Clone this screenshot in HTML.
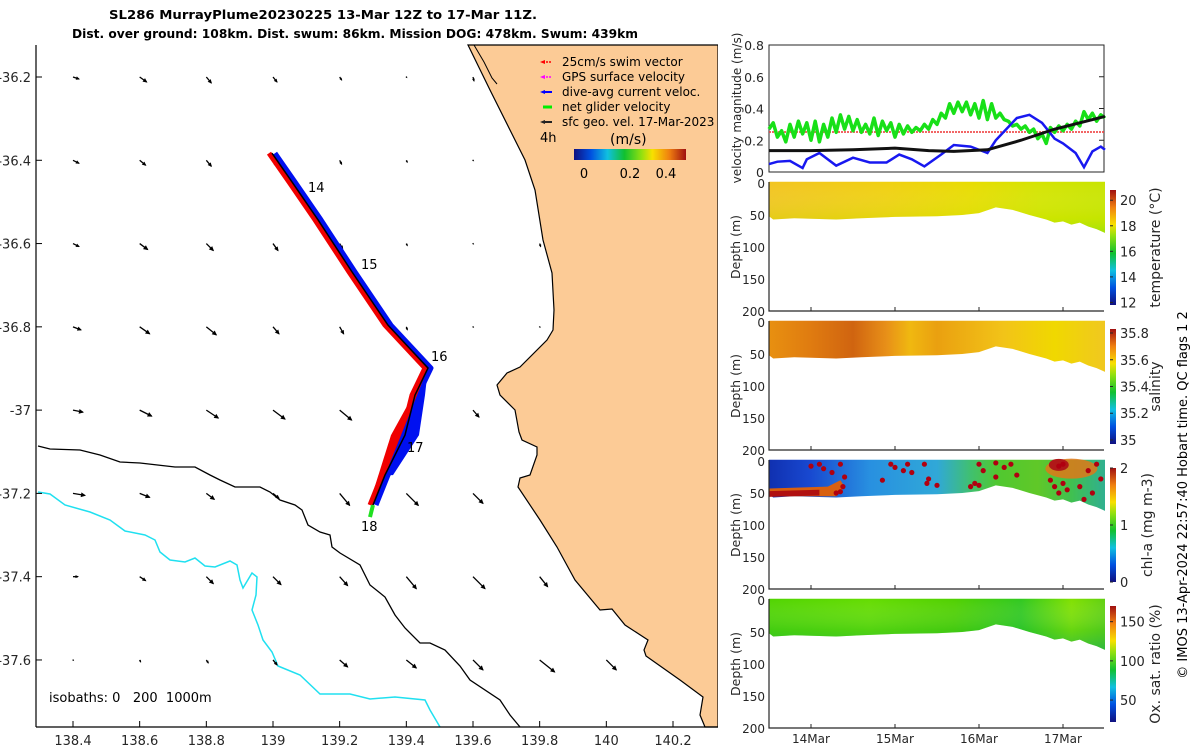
<!DOCTYPE html>
<html><head><meta charset="utf-8"><style>
html,body{margin:0;padding:0;background:#fff;}
svg{display:block;font-family:"DejaVu Sans","Liberation Sans",sans-serif;}
</style></head><body>
<svg id="fig" width="1200" height="750" viewBox="0 0 1200 750" xmlns="http://www.w3.org/2000/svg">
<defs>
<linearGradient id="jet" x1="0" y1="1" x2="0" y2="0">
<stop offset="0" stop-color="#10107f"/><stop offset="0.15" stop-color="#0050e0"/><stop offset="0.3" stop-color="#10c0e0"/><stop offset="0.45" stop-color="#10c030"/><stop offset="0.6" stop-color="#90e010"/><stop offset="0.7" stop-color="#f8e000"/><stop offset="0.85" stop-color="#f08010"/><stop offset="1" stop-color="#a01010"/>
</linearGradient>
<linearGradient id="jetH" x1="0" y1="0" x2="1" y2="0">
<stop offset="0" stop-color="#10107f"/><stop offset="0.15" stop-color="#0050e0"/><stop offset="0.3" stop-color="#10c0e0"/><stop offset="0.45" stop-color="#10c030"/><stop offset="0.6" stop-color="#90e010"/><stop offset="0.7" stop-color="#f8e000"/><stop offset="0.85" stop-color="#f08010"/><stop offset="1" stop-color="#a01010"/>
</linearGradient>
<linearGradient id="gTemp" x1="0" y1="0" x2="1" y2="0">
<stop offset="0" stop-color="#f2c420"/><stop offset="0.35" stop-color="#f0d010"/><stop offset="0.6" stop-color="#e8dc00"/><stop offset="0.8" stop-color="#d4e400"/><stop offset="1" stop-color="#c8e400"/>
</linearGradient>
<linearGradient id="gTempV" x1="0" y1="0" x2="0" y2="1">
<stop offset="0" stop-color="#fff" stop-opacity="0"/><stop offset="0.7" stop-color="#b8e800" stop-opacity="0.2"/><stop offset="1" stop-color="#90e010" stop-opacity="0.7"/>
</linearGradient>
<linearGradient id="gSal" x1="0" y1="0" x2="1" y2="0">
<stop offset="0" stop-color="#e89010"/><stop offset="0.12" stop-color="#e07c10"/><stop offset="0.25" stop-color="#d06410"/><stop offset="0.35" stop-color="#e89018"/><stop offset="0.42" stop-color="#f0b810"/><stop offset="0.5" stop-color="#eaa010"/><stop offset="0.7" stop-color="#f2c418"/><stop offset="0.85" stop-color="#f0d800"/><stop offset="1" stop-color="#f0c820"/>
</linearGradient>
<linearGradient id="gChl" x1="0" y1="0" x2="1" y2="0">
<stop offset="0" stop-color="#1030b0"/><stop offset="0.12" stop-color="#1848d0"/><stop offset="0.3" stop-color="#2890e0"/><stop offset="0.5" stop-color="#30a8d8"/><stop offset="0.6" stop-color="#40c070"/><stop offset="0.68" stop-color="#50c830"/><stop offset="0.8" stop-color="#60c828"/><stop offset="0.9" stop-color="#40c050"/><stop offset="1" stop-color="#30b090"/>
</linearGradient>
<linearGradient id="gOx" x1="0" y1="0" x2="1" y2="0">
<stop offset="0" stop-color="#50d400"/><stop offset="0.3" stop-color="#64dc00"/><stop offset="0.55" stop-color="#50d000"/><stop offset="0.75" stop-color="#30c820"/><stop offset="0.9" stop-color="#80e000"/><stop offset="1" stop-color="#60d010"/>
</linearGradient>
<linearGradient id="gOxV" x1="0" y1="0" x2="0" y2="1">
<stop offset="0" stop-color="#fff" stop-opacity="0"/><stop offset="0.6" stop-color="#20b840" stop-opacity="0.25"/><stop offset="1" stop-color="#10a860" stop-opacity="0.6"/>
</linearGradient>
</defs>

<g font-weight="bold" font-size="12.5" fill="#000">
<text x="109" y="19" textLength="428" lengthAdjust="spacingAndGlyphs">SL286 MurrayPlume20230225 13-Mar 12Z to 17-Mar 11Z.</text>
<text x="72" y="38" textLength="566" lengthAdjust="spacingAndGlyphs">Dist. over ground: 108km. Dist. swum: 86km. Mission DOG: 478km. Swum: 439km</text>
</g>

<g id="map">
<polygon fill="#fccb96" stroke="#000" stroke-width="1.2" points="468,45 490,90 510,130 525,160 535,190 543,240 552,273 554,310 553,330 547,340 520,367 507,373 497,385 500,395 515,410 519,432 522,440 537,447 537,455 530,475 520,478 518,487 540,520 557,547 575,580 600,610 612,609 625,625 648,640 644,650 646,656 680,680 703,697 700,715 705,727 718,727 718,45"/>
<polyline fill="none" stroke="#000" stroke-width="1" points="474,45 484,62 492,78 497,84"/>
<polyline fill="none" stroke="#000" stroke-width="1.3" points="38,446 50,449 80,450 100,455 120,462 140,463 175,467 195,467 210,475 220,480 235,487 260,487 270,492 280,500 295,505 302,510 308,525 320,532 330,535 332,547 340,553 360,565 370,585 385,597 395,615 405,628 420,643 430,643 445,650 460,666 470,680 500,700 510,715 520,727"/>
<polyline fill="none" stroke="#20e0f0" stroke-width="1.5" points="38,492 50,494 65,505 90,512 110,520 125,531 145,535 155,540 160,552 170,560 185,562 195,558 205,566 215,567 230,561 237,565 240,580 243,588 252,573 257,577 256,595 252,610 258,625 263,640 272,652 278,666 300,675 320,694 350,694 370,699 395,697 425,700 430,710 440,727"/>
<g id="quiver"></g>
<g id="track"></g>
<g font-size="13" fill="#000">
<text x="308" y="192">14</text><text x="361" y="269">15</text><text x="431" y="361">16</text><text x="407" y="452">17</text><text x="361" y="531">18</text>
</g>
<rect x="718" y="44" width="10" height="690" fill="#fff"/>
<line x1="36" y1="45" x2="36" y2="727" stroke="#000" stroke-width="1.2"/>
<line x1="36" y1="727" x2="718" y2="727" stroke="#000" stroke-width="1.2"/>
<g id="mapTicks" font-size="13" fill="#262626"></g>
<text x="49" y="702" font-size="13" fill="#000" style="white-space:pre" xml:space="preserve">isobaths: 0   200  1000m</text>
<g font-size="12" fill="#000">
<line x1="543" y1="62" x2="552" y2="62" stroke="#f00" stroke-width="1.5" stroke-dasharray="2,1"/><polygon points="540,62 545,60 545,64" fill="#f00"/><text x="562" y="66">25cm/s swim vector</text>
<line x1="543" y1="77" x2="552" y2="77" stroke="#f0f" stroke-width="1.5" stroke-dasharray="2,1"/><polygon points="540,77 545,75 545,79" fill="#f0f"/><text x="562" y="81">GPS surface velocity</text>
<line x1="543" y1="92" x2="552" y2="92" stroke="#00f" stroke-width="2"/><polygon points="540,92 545,90 545,94" fill="#00f"/><text x="562" y="96">dive-avg current veloc.</text>
<line x1="543" y1="107" x2="552" y2="107" stroke="#0e0" stroke-width="3"/><text x="562" y="111">net glider velocity</text>
<line x1="543" y1="122" x2="552" y2="122" stroke="#222" stroke-width="2"/><polygon points="540,122 545,120 545,124" fill="#222"/><text x="562" y="126">sfc geo. vel. 17-Mar-2023</text>
<text x="540" y="142" font-size="13">4h</text>
<text x="610" y="144" font-size="14">(m/s)</text>
<rect x="574" y="149" width="112" height="11" fill="url(#jetH)"/>
<text x="584" y="178" font-size="13" text-anchor="middle">0</text><text x="630" y="178" font-size="13" text-anchor="middle">0.2</text><text x="666" y="178" font-size="13" text-anchor="middle">0.4</text>
</g>
</g>

<g id="vel">
<rect x="769" y="45" width="335" height="127" fill="none" stroke="#262626" stroke-width="1"/>
<line x1="769" y1="132" x2="1104" y2="132" stroke="#f04040" stroke-width="2" stroke-dasharray="2,1" opacity="0.8"/>
<g id="velLines"></g>
<g id="velTicks" font-size="12.5" fill="#262626" text-anchor="end"></g>
<text transform="translate(741,108) rotate(-90)" text-anchor="middle" font-size="12" fill="#262626">velocity magnitude (m/s)</text>
</g>

<g id="sections"></g>

<text transform="translate(1187,495) rotate(-90)" text-anchor="middle" font-size="13" fill="#000">© IMOS 13-Apr-2024 22:57:40 Hobart time. QC flags 1  2</text>
</svg>
<script>
// ---- map grid data ----
const quivLon = [138.4,138.6,138.8,139.0,139.2,139.4,139.6,139.8,140.0,140.2];
const quivLat = [-36.2,-36.4,-36.6,-36.8,-37.0,-37.2,-37.4,-37.6];
const quivU = [
 [6,7,5,4,2,0.5,1,null,null,null],
 [6,6,5,4,2,1,0.5,null,null,null],
 [6,8,7,5,3,1,0.5,1,null,null],
 [8,10,10,6,4,1,0.5,0.5,null,null],
 [10,12,12,12,12,10,6,null,null,null],
 [12,10,8,6,10,12,10,null,null,null],
 [5,6,7,8,8,10,12,8,null,null],
 [0.5,1,2,4,8,10,10,15,10,null]];
const quivV = [
 [2,5,6,5,3,0.5,4,null,null,null],
 [3,5,6,6,4,2,0.5,null,null,null],
 [3,6,7,7,5,2,0.5,3,null,null],
 [3,7,8,7,7,3,0.5,0.5,null,null],
 [2,6,8,9,10,10,7,null,null,null],
 [2,4,6,5,12,12,10,null,null,null],
 [0,4,7,8,9,12,12,10,null,null],
 [0.5,2,3,5,7,8,10,12,10,null]];
const trackLon = [138.997,139.057,139.135,139.237,139.345,139.465,139.426,139.396,139.336,139.300];
const trackLat = [-36.383,-36.452,-36.543,-36.668,-36.796,-36.899,-36.964,-37.060,-37.156,-37.228];
const lonTicks = [138.4,138.6,138.8,139,139.2,139.4,139.6,139.8,140,140.2];
const latTicks = [-36.2,-36.4,-36.6,-36.8,-37,-37.2,-37.4,-37.6];

// ---- velocity panel data ----
const greenT0 = 13.5, greenDT = 0.05;
const greenV = [0.27,0.31,0.22,0.26,0.19,0.30,0.22,0.32,0.24,0.31,0.20,
 0.32,0.19,0.30,0.22,0.34,0.25,0.36,0.27,0.35,0.26,
 0.33,0.25,0.30,0.24,0.34,0.23,0.32,0.26,0.31,0.22,
 0.30,0.24,0.29,0.25,0.28,0.26,0.30,0.27,0.33,0.30,
 0.37,0.34,0.43,0.37,0.44,0.38,0.44,0.36,0.43,0.34,
 0.45,0.33,0.43,0.34,0.37,0.33,0.32,0.29,0.30,0.27,
 0.29,0.25,0.27,0.21,0.24,0.18,0.28,0.25,0.29,0.26,
 0.30,0.27,0.32,0.29,0.38,0.33,0.37,0.32,0.36,0.34];
const blueT = [13.5,13.6,13.75,13.9,13.95,14.1,14.3,14.5,14.7,14.9,15.05,15.2,15.35,15.55,15.7,15.9,16.05,16.1,16.2,16.45,16.6,16.75,16.9,17.0,17.15,17.25,17.35,17.45,17.5];
const blueV = [0.05,0.065,0.07,0.025,0.08,0.12,0.04,0.09,0.06,0.06,0.11,0.08,0.035,0.11,0.17,0.16,0.13,0.12,0.2,0.34,0.36,0.31,0.21,0.18,0.12,0.03,0.13,0.16,0.14];
const blackT = [13.5,14.0,14.5,15.0,15.4,15.7,16.1,16.5,16.9,17.2,17.5];
const blackV = [0.135,0.135,0.14,0.15,0.135,0.13,0.14,0.2,0.27,0.31,0.35];
const velTicks = [0,0.2,0.4,0.6,0.8];

// ---- section data ----
const bottomT = [13.5,13.55,13.8,14.3,14.6,15.0,15.5,15.8,16.0,16.2,16.4,16.6,16.8,16.9,17.0,17.1,17.2,17.3,17.4,17.5];
const bottomD = [52,57,55,57,55,53,52,50,47,38,42,50,57,62,60,65,62,68,72,78];
const depthTicks = [0,50,100,150,200];
const dayTicks = [14,15,16,17];
const dayLabels = ['14Mar','15Mar','16Mar','17Mar'];
const chlDotT = [14.0,14.1,14.15,14.25,14.35,14.4,14.38,14.35,14.3,14.85,14.95,15.0,15.1,15.15,15.2,15.35,15.4,15.5,15.38,15.9,15.95,16.0,16.0,16.05,16.2,16.3,16.38,16.45,16.2,16.85,16.9,16.95,17.0,17.05,17.2,17.25,17.35,17.45,17.4,17.3,16.95,17.0];
const chlDotD = [8,5,12,18,5,25,40,48,50,30,5,10,15,5,18,5,28,38,35,40,35,38,5,15,3,10,5,22,25,30,40,50,35,45,40,60,50,28,5,15,8,5];
const tempTicks = [12,14,16,18,20];
const salTicks = [35,35.2,35.4,35.6,35.8];
const chlTicks = [0,1,2];
const oxTicks = [50,100,150];

const NS = 'http://www.w3.org/2000/svg';
function mk(tag, attrs, parent){ const e=document.createElementNS(NS,tag); for(const k in attrs) e.setAttribute(k,attrs[k]); parent.appendChild(e); return e; }

const mx = lon => 73 + (lon-138.4)*333.33;
const my = lat => 77 - (lat+36.2)*416.4;
const qg = document.getElementById('quiver');
quivLat.forEach((la,j)=>quivLon.forEach((lo,i)=>{
  const u=quivU[j][i], v=quivV[j][i];
  if(u===null) return;
  const x0=mx(lo), y0=my(la), x1=x0+u, y1=y0+v;
  const a = mk('line',{x1:x0,y1:y0,x2:x1,y2:y1,stroke:'#000','stroke-width':1.3},qg);
  
  
  const L=Math.hypot(u,v)||1, ux=u/L, uy=v/L, h=Math.min(4,1+L*0.3);
  const hd = mk('polygon',{points:`${x1+ux},${y1+uy} ${x1-ux*h-uy*h*0.6},${y1-uy*h+ux*h*0.6} ${x1-ux*h+uy*h*0.6},${y1-uy*h-ux*h*0.6}`,fill:'#000'},qg);
  
  
}));
const tg = document.getElementById('track');
const ptsOff = (dx)=>trackLon.map((lo,i)=>`${mx(lo)+dx},${my(trackLat[i])}`).join(' ');
const tb = mk('polyline',{points:ptsOff(3),fill:'none',stroke:'#0010f0','stroke-width':5,'stroke-linejoin':'round'},tg);


const tr = mk('polyline',{points:ptsOff(-3),fill:'none',stroke:'#f00000','stroke-width':5,'stroke-linejoin':'round'},tg);


const n=trackLon.length;
const legR = mk('polygon',{points:`${mx(trackLon[5])},${my(trackLat[5])} ${mx(trackLon[8])},${my(trackLat[8])} ${mx(trackLon[9])-4},${my(trackLat[9])} ${mx(trackLon[7])-14},${my(trackLat[7])}`,fill:'#f00000'},tg);


const legB = mk('polygon',{points:`${mx(trackLon[5])},${my(trackLat[5])} ${mx(trackLon[6])+10},${my(trackLat[6])} ${mx(trackLon[7])+14},${my(trackLat[7])} ${mx(trackLon[8])+8},${my(trackLat[8])} ${mx(trackLon[8])},${my(trackLat[8])}`,fill:'#0010f0'},tg);


const tk = mk('polyline',{points:ptsOff(0),fill:'none',stroke:'#000','stroke-width':1.5},tg);


const tgn = mk('line',{x1:mx(trackLon[n-1]),y1:my(trackLat[n-1]),x2:mx(trackLon[n-1])-3,y2:my(trackLat[n-1])+12,stroke:'#20e020','stroke-width':4},tg);



const mt = document.getElementById('mapTicks');
lonTicks.forEach(lo=>{
  const x=mx(lo);
  const l=mk('line',{x1:x,y1:727,x2:x,y2:721,stroke:'#000'},mt);
  
  
  const t=mk('text',{x:x,y:745,'text-anchor':'middle'},mt); t.textContent=String(lo);
  
  
});
latTicks.forEach(la=>{
  const y=my(la);
  const l=mk('line',{x1:36,y1:y,x2:42,y2:y,stroke:'#000'},mt);
  
  
  const t=mk('text',{x:31,y:y+5,'text-anchor':'end'},mt); t.textContent=String(la);
  
  
});

const tx = t => 769 + (t-13.5)*84;
const vy = v => 172 - v*158.75;
const vl = document.getElementById('velLines');
const gp = greenV.map((v,i)=>`${tx(greenT0+i*greenDT)},${vy(v)}`).join(' ');
const gl = mk('polyline',{points:gp,fill:'none',stroke:'#18e018','stroke-width':3.5,'stroke-linejoin':'round'},vl);


const bp = blueT.map((t,i)=>`${tx(t)},${vy(blueV[i])}`).join(' ');
const bl = mk('polyline',{points:bp,fill:'none',stroke:'#1818f0','stroke-width':2.5},vl);


const kp = blackT.map((t,i)=>`${tx(t)},${vy(blackV[i])}`).join(' ');
const kl = mk('polyline',{points:kp,fill:'none',stroke:'#111','stroke-width':3},vl);


const vt = document.getElementById('velTicks');
velTicks.forEach(v=>{
  const t=mk('text',{x:764,y:vy(v)+5},vt); t.textContent=String(v);
  
  
  const l=mk('line',{x1:1104,y1:vy(v),x2:1099,y2:vy(v),stroke:'#262626'},vt);
  
  
});

const sg = document.getElementById('sections');
const panels = [
 {top:183, fill:'url(#gTemp)', over:'url(#gTempV)', cbTop:190, cbBot:305, ticks:tempTicks, tmin:11.8, tmax:20.8, label:'temperature (°C)', lx:1160, name:'temperature'},
 {top:322, fill:'url(#gSal)', over:null, cbTop:329, cbBot:444, ticks:salTicks, tmin:34.97, tmax:35.83, label:'salinity', lx:1160, name:'salinity'},
 {top:461, fill:'url(#gChl)', over:null, cbTop:468, cbBot:582, ticks:chlTicks, tmin:0, tmax:2, label:'chl-a (mg m-3)', lx:1152, name:'chlorophyll'},
 {top:600, fill:'url(#gOx)', over:'url(#gOxV)', cbTop:606, cbBot:722, ticks:oxTicks, tmin:22, tmax:170, label:'Ox. sat. ratio (%)', lx:1160, name:'oxygen'}
];
panels.forEach((p,pi)=>{
  const g = mk('g',{},sg);
  
  
  const dy = d => p.top + d*0.64;
  let pts = `${tx(13.5)},${dy(-2)} ${tx(17.5)},${dy(-2)} ` + bottomT.slice().reverse().map((t,i)=>`${tx(t)},${dy(bottomD[bottomD.length-1-i])}`).join(' ');
  const poly = mk('polygon',{points:pts,fill:p.fill},g);
  
  
  if(p.over){
    const o = mk('polygon',{points:pts,fill:p.over},g);
    
    
  }
  if(p.name==='chlorophyll'){
    const band = mk('polygon',{points:`${tx(13.5)},${dy(43)} ${tx(14.2)},${dy(40)} ${tx(14.35)},${dy(30)} ${tx(14.4)},${dy(40)} ${tx(14.3)},${dy(55)} ${tx(13.5)},${dy(55)}`,fill:'#d86010'},g);
    
    
    const band2 = mk('polygon',{points:`${tx(13.5)},${dy(47)} ${tx(14.1)},${dy(45)} ${tx(14.1)},${dy(54)} ${tx(13.5)},${dy(56)}`,fill:'#b01010'},g);
    
    
    const blob = mk('ellipse',{cx:tx(17.1),cy:dy(12),rx:26,ry:10,fill:'#e07818',opacity:0.85},g);
    
    
    const blob2 = mk('ellipse',{cx:tx(16.95),cy:dy(6),rx:10,ry:6,fill:'#b01818'},g);
    
    
    chlDotT.forEach((t,i)=>{
      const c = mk('circle',{cx:tx(t),cy:dy(chlDotD[i]),r:2.6,fill:'#b00010'},g);
      
      
    });
  }
  const ax = mk('polyline',{points:`769,${p.top-1} 769,${dy(200)} 1104,${dy(200)}`,fill:'none',stroke:'#262626','stroke-width':1.2},g);
  
  
  depthTicks.forEach(d=>{
    const t=mk('text',{x:765,y:dy(d)+5,'text-anchor':'end','font-size':12,fill:'#262626'},g); t.textContent=String(d);
    
    
  });
  const yl=mk('text',{transform:`translate(740,${dy(100)}) rotate(-90)`,'text-anchor':'middle','font-size':12.5,fill:'#262626'},g); yl.textContent='Depth (m)';
  
  
  const cb = mk('rect',{x:1110,y:p.cbTop,width:6,height:p.cbBot-p.cbTop,fill:'url(#jet)'},g);
  
  
  const cy = v => p.cbBot - (v-p.tmin)/(p.tmax-p.tmin)*(p.cbBot-p.cbTop);
  p.ticks.forEach(v=>{
    const t=mk('text',{x:1120,y:cy(v)+5,'font-size':13,fill:'#262626'},g); t.textContent=String(v);
    
    
    const l=mk('line',{x1:1110,y1:cy(v),x2:1113,y2:cy(v),stroke:'#262626'},g);
    
    
  });
  const cl=mk('text',{transform:`translate(${p.lx},${(p.cbTop+p.cbBot)/2}) rotate(-90)`,'text-anchor':'middle','font-size':14,fill:'#262626'},g); cl.textContent=p.label;
  
  
  if(pi===3){
    dayTicks.forEach((d,i)=>{
      const t=mk('text',{x:tx(d),y:743,'text-anchor':'middle','font-size':12,fill:'#262626'},g); t.textContent=dayLabels[i];
      
      
    });
  }
  dayTicks.forEach(d=>{
    const l=mk('line',{x1:tx(d),y1:dy(200),x2:tx(d),y2:dy(200)-4,stroke:'#262626'},g);
    
    
  });
});
</script>
</body></html>
